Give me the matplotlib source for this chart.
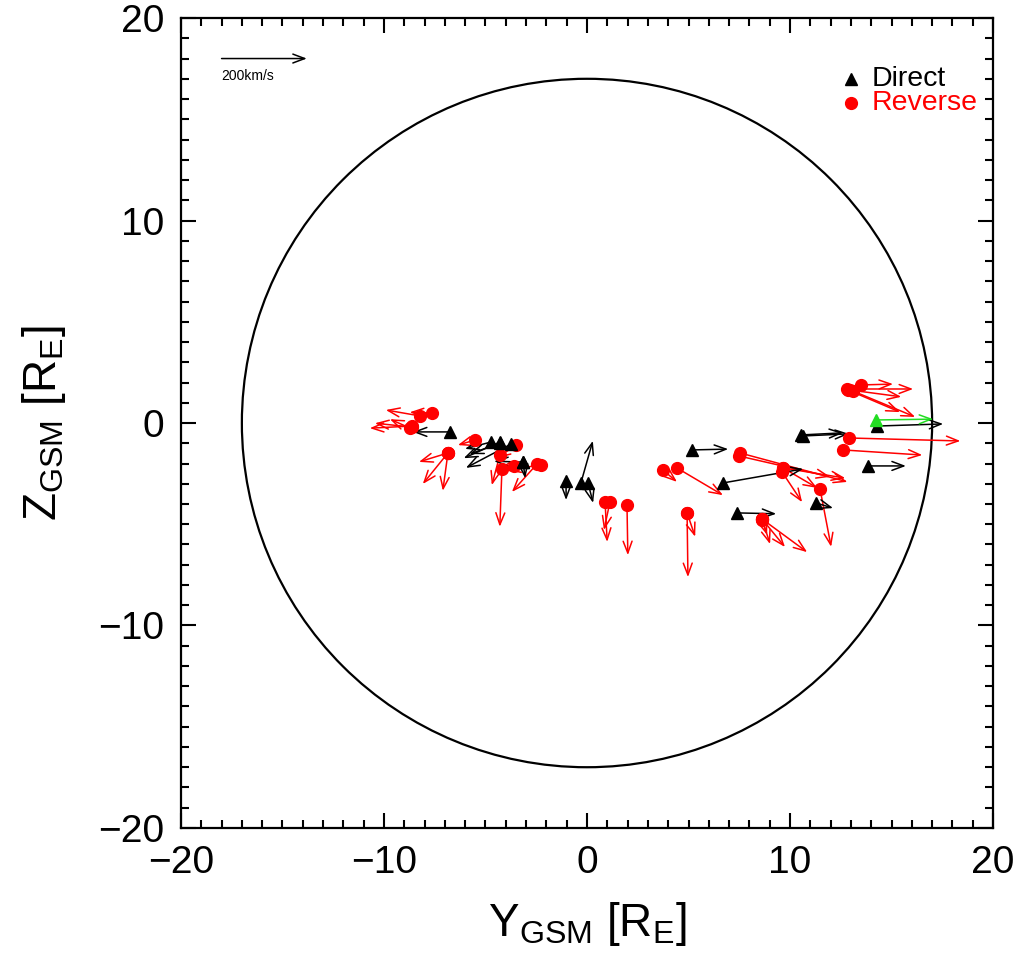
import matplotlib
matplotlib.use('Agg')
import matplotlib.pyplot as plt
import numpy as np
from matplotlib.patches import Circle
from matplotlib.ticker import MultipleLocator

plt.rcParams['font.family'] = ['Liberation Sans', 'DejaVu Sans']
plt.rcParams['mathtext.fontset'] = 'custom'
plt.rcParams['mathtext.rm'] = 'Liberation Sans'
plt.rcParams['mathtext.it'] = 'Liberation Sans:italic'

# ---- Data (positions in R_E, velocities in km/s) ----
direct_y = [-6.75, -4.73, -4.29, -3.74, -4.29, -3.15, -3.15, -1.03, -0.30, 0.05,
            5.17, 6.70, 7.39, 10.54, 10.64, 11.28, 13.84, 14.29]
direct_z = [-0.44, -0.94, -0.94, -1.04, -0.99, -1.93, -1.93, -2.86, -2.96, -2.96,
            -1.33, -2.96, -4.44, -0.59, -0.64, -3.95, -2.12, -0.15]
direct_vy = [-87, -61, -85, -106, -71, -68, 5, 0, 28, 12,
             85, 188, 92, 99, 108, 40, 89, 155]
direct_vz = [0, -16, -38, -56, -26, 2, -38, -45, 99, -47,
             2, 33, -2, 5, 5, -12, 0, 5]

green_y = [14.24]
green_z = [0.15]
green_vy = [134]
green_vz = [2]

reverse_y = [-7.64, -8.23, -8.62, -8.62, -8.72, -6.85, -6.85, -6.85, -5.52, -3.50,
             -4.29, -4.19, -2.46, -2.27, -3.60, 0.89, 1.13, 1.97, 3.74, 4.43,
             4.93, 4.93, 7.54, 7.49, 9.66, 9.61, 9.66, 11.48, 8.62, 8.62,
             8.62, 8.62, 12.61, 12.91, 13.50, 12.81, 12.96, 13.10, 12.86]
reverse_z = [0.49, 0.35, -0.15, -0.20, -0.25, -1.48, -1.48, -1.48, -0.84, -1.09,
             -1.58, -2.27, -2.02, -2.07, -2.12, -3.90, -3.90, -4.05, -2.32, -2.22,
             -4.44, -4.44, -1.48, -1.63, -2.22, -2.42, -2.22, -3.26, -4.74, -4.74,
             -4.74, -4.79, -1.33, -0.74, 1.88, 1.68, 1.63, 1.58, 1.63]
reverse_vy = [-52, -80, -99, -87, -47, -68, -59, -12, -40, -45,
              -19, -5, -59, -80, -38, 5, -14, 2, 33, 108,
              2, 19, 252, 214, 80, 47, 146, 26, 19, 54,
              106, 12, 186, 261, 75, 155, 120, 146, 122]
reverse_vz = [2, 14, -5, 9, 21, -21, -73, -89, -12, -31,
              -71, -136, -66, -12, -9, -94, -66, -118, -28, -64,
              -151, -56, -68, -49, -47, -71, -24, -136, -59, -66,
              -78, -35, -12, -7, 2, 0, -16, -61, -52]

mp_radius = 17.0          # magnetopause cross-section radius [R_E]
ref_speed = 200           # km/s reference arrow
scale = 4.2 / 200.0       # R_E per km/s

ticks = [-20, -10, 0, 10, 20]

fig = plt.figure(figsize=(10.23, 9.65), dpi=100)
ax = fig.add_axes([0.1769, 0.1420, 0.7938, 0.8393])
ax.set_xlim(-20, 20)
ax.set_ylim(-20, 20)

ax.add_patch(Circle((0, 0), mp_radius, fill=False, ec='black', lw=1.6, zorder=2))

ARROW = '->,head_length=0.85,head_width=0.32'

def arrows(ys, zs, vys, vzs, color):
    for y, z, vy, vz in zip(ys, zs, vys, vzs):
        ax.annotate('', xy=(y + vy * scale, z + vz * scale), xytext=(y, z),
                    arrowprops=dict(arrowstyle=ARROW,
                                    color=color, lw=1.1, shrinkA=0, shrinkB=0,
                                    mutation_scale=10), zorder=3)

arrows(reverse_y, reverse_z, reverse_vy, reverse_vz, 'red')
arrows(direct_y, direct_z, direct_vy, direct_vz, 'black')
arrows(green_y, green_z, green_vy, green_vz, '#22dd22')

ax.plot(reverse_y, reverse_z, 'o', color='red', ms=8.5, mec='red', zorder=4)
ax.plot(direct_y, direct_z, '^', color='black', ms=8.5, zorder=4)
ax.plot(green_y, green_z, '^', color='#22dd22', ms=8.5, zorder=5)

# reference arrow
ax.annotate('', xy=(-18 + ref_speed * scale, 18), xytext=(-18, 18),
            arrowprops=dict(arrowstyle=ARROW,
                            color='black', lw=1.1, shrinkA=0, shrinkB=0,
                            mutation_scale=10))
ax.text(-18, 17.15, '200km/s', fontsize=10, va='center', ha='left')

# legend (manual)
ax.plot([13.0], [17.0], '^', color='black', ms=8.5)
ax.text(14.0, 17.0, 'Direct', fontsize=20.5, va='center', ha='left', color='black')
ax.plot([13.0], [15.8], 'o', color='red', ms=8.5)
ax.text(14.0, 15.8, 'Reverse', fontsize=20.5, va='center', ha='left', color='red')

ax.set_xticks(ticks)
ax.set_yticks(ticks)
ax.xaxis.set_minor_locator(MultipleLocator(1))
ax.yaxis.set_minor_locator(MultipleLocator(1))
ax.tick_params(which='both', direction='in', top=True, right=True, width=1.5)
ax.tick_params(which='major', length=11, labelsize=28, pad=12)
ax.tick_params(which='minor', length=5.5)
for s in ax.spines.values():
    s.set_linewidth(1.6)

ax.set_xlabel(r'Y$_{\rm GSM}$ [R$_{\rm E}$]', fontsize=33, labelpad=14)
ax.set_ylabel(r'Z$_{\rm GSM}$ [R$_{\rm E}$]', fontsize=33, labelpad=22)

fig.savefig('out.png', dpi=100)
